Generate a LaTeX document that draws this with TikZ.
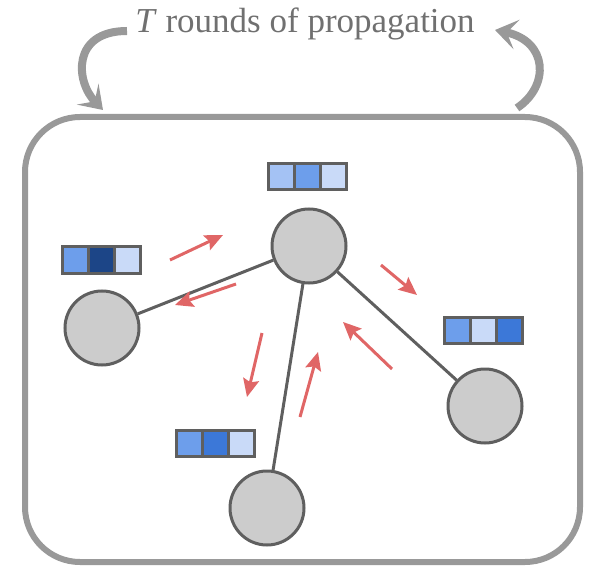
\documentclass[tikz,border=0pt]{standalone}
\usepackage{fontspec}
\setmainfont{Liberation Serif}
\usepackage{tikz}
\usetikzlibrary{positioning, arrows.meta}
\definecolor{mygray}{HTML}{999999}
\definecolor{edgegray}{HTML}{5F5F5F}
\definecolor{nodegray}{HTML}{CCCCCC}
\definecolor{txtgray}{HTML}{707070}
\definecolor{myred}{HTML}{E06666}
\definecolor{blA}{HTML}{A4C2F4}
\definecolor{blB}{HTML}{6D9EEB}
\definecolor{blC}{HTML}{C9DAF8}
\definecolor{blD}{HTML}{3C78D8}
\definecolor{blE}{HTML}{1C4587}

\begin{document}
\begin{tikzpicture}
[x=1pt, y=1pt,
 vtx/.style={circle, draw=edgegray, fill=nodegray, line width=3pt, inner sep=0pt, minimum size=74pt},
 cell/.style={rectangle, draw=edgegray, line width=3pt, inner sep=0pt, minimum size=26pt},
 msg/.style={line width=3pt, myred, arrows={-Stealth[length=18pt, width=16pt, inset=3pt]}},
 loop/.style={line width=8pt, mygray, arrows={-Stealth[length=22pt, width=30pt, inset=10pt]}},
 lnk/.style={line width=3pt, edgegray}]
\useasboundingbox (0,0) rectangle (601,576);
% outer box
\draw[line width=6pt, mygray, rounded corners=55pt] (25,14) rectangle (580,459);
% title and the two loop arrows
\node[anchor=base, text=txtgray, font=\fontsize{35}{40}\selectfont] (ttl) at (305,543) {\textit{T} rounds of propagation};
\coordinate (l1) at (127,545);
\coordinate (l2) at (103,466);
\coordinate (r1) at (517,468);
\coordinate (r2) at (495,546);
\draw[loop] (l1) .. controls (72,545) and (75,495) .. (l2);
\draw[loop] (r1) .. controls (550,490) and (548,535) .. (r2);
% graph
\node[vtx] (vc) at (309,330) {}; % centre
\node[vtx] (vl) at (102,248) {}; % left
\node[vtx] (vb) at (267,68) {}; % bottom
\node[vtx] (vr) at (485,170) {}; % right
\draw[lnk] (vc) -- (vl);
\draw[lnk] (vc) -- (vb);
\draw[lnk] (vc) -- (vr);
% feature vectors
\node[cell, fill=blA] (c1) at (281.5,399.5) {};
\node[cell, fill=blB] (c2) at (307.5,399.5) {};
\node[cell, fill=blC] (c3) at (333.5,399.5) {};
\node[cell, fill=blB] (l1c) at (75.5,316) {};
\node[cell, fill=blE] (l2c) at (101.5,316) {};
\node[cell, fill=blC] (l3c) at (127.5,316) {};
\node[cell, fill=blB] (r1c) at (457.5,245.5) {};
\node[cell, fill=blC] (r2c) at (483.5,245.5) {};
\node[cell, fill=blD] (r3c) at (509.5,245.5) {};
\node[cell, fill=blB] (b1c) at (189.5,132.5) {};
\node[cell, fill=blD] (b2c) at (215.5,132.5) {};
\node[cell, fill=blC] (b3c) at (241.5,132.5) {};
% messages
\coordinate (m1a) at (170,316); \coordinate (m1b) at (223,341);
\coordinate (m2a) at (236,292); \coordinate (m2b) at (175,271);
\coordinate (m3a) at (262,243); \coordinate (m3b) at (247,179);
\coordinate (m4a) at (300,159); \coordinate (m4b) at (318,224);
\coordinate (m5a) at (392,207); \coordinate (m5b) at (343,254);
\coordinate (m6a) at (381,311); \coordinate (m6b) at (417,281);
\draw[msg] (m1a) -- (m1b);
\draw[msg] (m2a) -- (m2b);
\draw[msg] (m3a) -- (m3b);
\draw[msg] (m4a) -- (m4b);
\draw[msg] (m5a) -- (m5b);
\draw[msg] (m6a) -- (m6b);
\end{tikzpicture}
\end{document}
